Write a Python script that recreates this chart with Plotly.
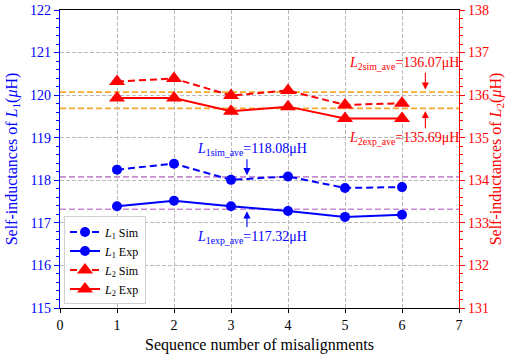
import plotly.graph_objects as go

seq = [1, 2, 3, 4, 5, 6]
l1_sim = [118.25, 118.39, 118.01, 118.09, 117.82, 117.84]
l1_exp = [117.39, 117.52, 117.39, 117.28, 117.14, 117.19]
l2_sim = [136.32, 136.39, 135.99, 136.11, 135.77, 135.81]
l2_exp = [135.93, 135.93, 135.62, 135.73, 135.45, 135.45]
l1_sim_ave = 118.08
l1_exp_ave = 117.32
l2_sim_ave = 136.07
l2_exp_ave = 135.69
x_ticks = [0, 1, 2, 3, 4, 5, 6, 7]
y1_ticks = [115, 116, 117, 118, 119, 120, 121, 122]
y2_ticks = [131, 132, 133, 134, 135, 136, 137, 138]

FONT = "Liberation Serif, Times New Roman, DejaVu Serif, serif"
BLUE = "#0000ff"
RED = "#ff0000"
PURPLE = "#c58ccf"
ORANGE = "#f5aa2a"
DASH = "7px,4px"
GRID = "#b8b8b8"

fig = go.Figure()
fig.add_trace(go.Scatter(x=seq, y=l1_sim, mode="lines+markers", name="<i>L</i><sub>1</sub> Sim",
                         line=dict(color=BLUE, width=2, dash=DASH),
                         marker=dict(symbol="circle", size=10, color=BLUE), yaxis="y"))
fig.add_trace(go.Scatter(x=seq, y=l1_exp, mode="lines+markers", name="<i>L</i><sub>1</sub> Exp",
                         line=dict(color=BLUE, width=2),
                         marker=dict(symbol="circle", size=10, color=BLUE), yaxis="y"))
fig.add_trace(go.Scatter(x=seq, y=l2_sim, mode="lines+markers", name="<i>L</i><sub>2</sub> Sim",
                         line=dict(color=RED, width=2, dash=DASH),
                         marker=dict(symbol="triangle-up", size=14, color=RED), yaxis="y2"))
fig.add_trace(go.Scatter(x=seq, y=l2_exp, mode="lines+markers", name="<i>L</i><sub>2</sub> Exp",
                         line=dict(color=RED, width=2),
                         marker=dict(symbol="triangle-up", size=14, color=RED), yaxis="y2"))

shapes = []
for v, yr, c in [(l1_sim_ave, "y", PURPLE), (l1_exp_ave, "y", PURPLE),
                 (l2_sim_ave, "y2", ORANGE), (l2_exp_ave, "y2", ORANGE)]:
    shapes.append(dict(type="line", xref="paper", x0=0, x1=1, yref=yr, y0=v, y1=v,
                       line=dict(color=c, width=1.6, dash="6px,3px"), layer="between"))

ann = []
def label(x, y, yref, txt, color):
    ann.append(dict(x=x, y=y, xref="x", yref=yref, text=txt, showarrow=False,
                    font=dict(family=FONT, size=14, color=color)))
def arrow(x, y_tail, y_tip, yref, color):
    ann.append(dict(x=x, y=y_tip, xref="x", yref=yref, ax=x, ay=y_tail, axref="x", ayref=yref,
                    text="", showarrow=True, arrowhead=2, arrowsize=1.3, arrowwidth=1.1,
                    arrowcolor=color))

label(3.37, 118.72, "y", f"<i>L</i><sub>1sim_ave</sub>={l1_sim_ave:.2f}μH", BLUE)
arrow(3.28, 118.53, 118.12, "y", BLUE)
label(3.37, 116.66, "y", f"<i>L</i><sub>1exp_ave</sub>={l1_exp_ave:.2f}μH", BLUE)
arrow(3.28, 116.87, 117.27, "y", BLUE)
label(6.04, 136.74, "y2", f"<i>L</i><sub>2sim_ave</sub>={l2_sim_ave:.2f}μH", RED)
arrow(6.41, 136.56, 136.13, "y2", RED)
label(6.04, 134.98, "y2", f"<i>L</i><sub>2exp_ave</sub>={l2_exp_ave:.2f}μH", RED)
arrow(6.41, 135.19, 135.63, "y2", RED)

fig.update_layout(
    width=506, height=356,
    margin=dict(l=60, r=47, t=10, b=48),
    paper_bgcolor="white", plot_bgcolor="white",
    font=dict(family=FONT, size=14, color="black"),
    shapes=shapes, annotations=ann,
    showlegend=True,
    legend=dict(x=0.01, y=0.012, xanchor="left", yanchor="bottom",
                bgcolor="rgba(255,255,255,0.9)", bordercolor="#d0d0d0", borderwidth=1,
                font=dict(family=FONT, size=12, color="black"),
                tracegroupgap=0, itemwidth=30),
    xaxis=dict(range=[0, 7], tickvals=x_ticks, ticktext=[str(t) for t in x_ticks],
               automargin=False,
               showline=True, linecolor="black", linewidth=1.2, mirror=True,
               ticks="outside", ticklen=4, tickcolor="black",
               showgrid=True, gridcolor=GRID, griddash="4px,2px", gridwidth=1,
               zeroline=False,
               title=dict(text="Sequence number of misalignments", standoff=6,
                          font=dict(family=FONT, size=16, color="black")),
               tickfont=dict(family=FONT, size=14, color="black")),
    yaxis=dict(range=[115, 122], tickvals=y1_ticks, ticktext=[str(t) for t in y1_ticks],
               automargin=False,
               showline=True, linecolor=BLUE, linewidth=1.2,
               ticks="outside", ticklen=5, tickcolor=BLUE,
               minor=dict(dtick=0.2, ticks="outside", ticklen=3, tickcolor=BLUE, showgrid=False),
               showgrid=True, gridcolor=GRID, griddash="4px,2px", gridwidth=1,
               zeroline=False,
               title=dict(text="Self-inductances of <i>L</i><sub>1</sub>(<i>μ</i>H)", standoff=8,
                          font=dict(family=FONT, size=16, color=BLUE)),
               tickfont=dict(family=FONT, size=14, color=BLUE)),
    yaxis2=dict(range=[131, 138], tickvals=y2_ticks, ticktext=[str(t) for t in y2_ticks],
                overlaying="y", side="right", automargin=False,
                showline=True, linecolor=RED, linewidth=1.2,
                ticks="outside", ticklen=5, tickcolor=RED,
                minor=dict(dtick=0.2, ticks="outside", ticklen=3, tickcolor=RED, showgrid=False),
                showgrid=False, zeroline=False,
                title=dict(text="Self-inductances of <i>L</i><sub>2</sub>(<i>μ</i>H)", standoff=8,
                           font=dict(family=FONT, size=16, color=RED)),
                tickfont=dict(family=FONT, size=14, color=RED)),
)

fig.write_html("out.html")
